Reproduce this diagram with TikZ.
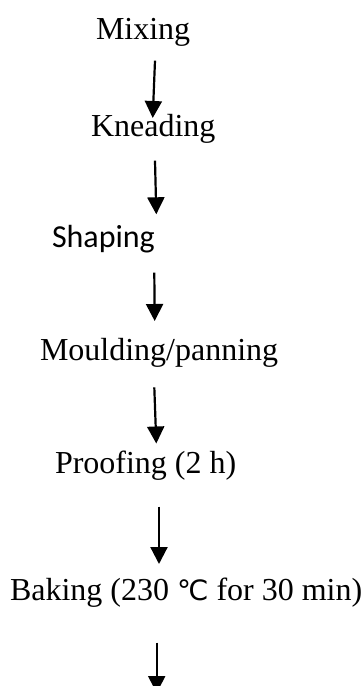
\documentclass[tikz,border=0pt]{standalone}
\usepackage{fontspec}
\setmainfont{Liberation Serif}
\newfontfamily\calibrifont{Carlito}
\newfontfamily\symfont{DejaVu Sans}
\usetikzlibrary{arrows.meta}

\begin{document}
\begin{tikzpicture}[x=1pt,y=1pt,
  steptext/.style={anchor=base west, inner sep=0pt, outer sep=0pt,
    font=\fontsize{32}{36}\selectfont},
  flow/.style={line width=2.2pt,
    -{Triangle[width=17pt,length=17pt]}}]
  \useasboundingbox (0,0) rectangle (362,-686);

  % process steps
  \node[steptext] (mix)   at (96,-39.5)  {Mixing};
  \node[steptext] (knead) at (91,-136)   {Kneading};
  \node[steptext, font=\fontsize{32}{36}\calibrifont] (shape) at (52,-247.5) {Shaping};
  \node[steptext] (mould) at (40,-360)   {Moulding/panning};
  \node[steptext] (proof) at (55,-473)   {Proofing (2 h)};
  \node[steptext] (bake)  at (10,-600)   {Baking (230 {\symfont\fontsize{28}{36}\selectfont ℃} for 30 min)};

  % arrow end points between the steps
  \coordinate (a1s) at (155,-60.7);   \coordinate (a1e) at (152.7,-118);
  \coordinate (a2s) at (155,-160.7);  \coordinate (a2e) at (156.3,-214.3);
  \coordinate (a3s) at (154.3,-272.7);\coordinate (a3e) at (154.7,-321);
  \coordinate (a4s) at (154.3,-387.3);\coordinate (a4e) at (156.3,-443.5);
  \coordinate (a5s) at (159,-506.7);  \coordinate (a5e) at (159,-564);
  \coordinate (a6s) at (156.7,-642.7);\coordinate (a6e) at (156.7,-693);

  \draw[flow] (a1s) -- (a1e);
  \draw[flow] (a2s) -- (a2e);
  \draw[flow] (a3s) -- (a3e);
  \draw[flow] (a4s) -- (a4e);
  \draw[flow] (a5s) -- (a5e);
  \draw[flow] (a6s) -- (a6e);
\end{tikzpicture}
\end{document}
